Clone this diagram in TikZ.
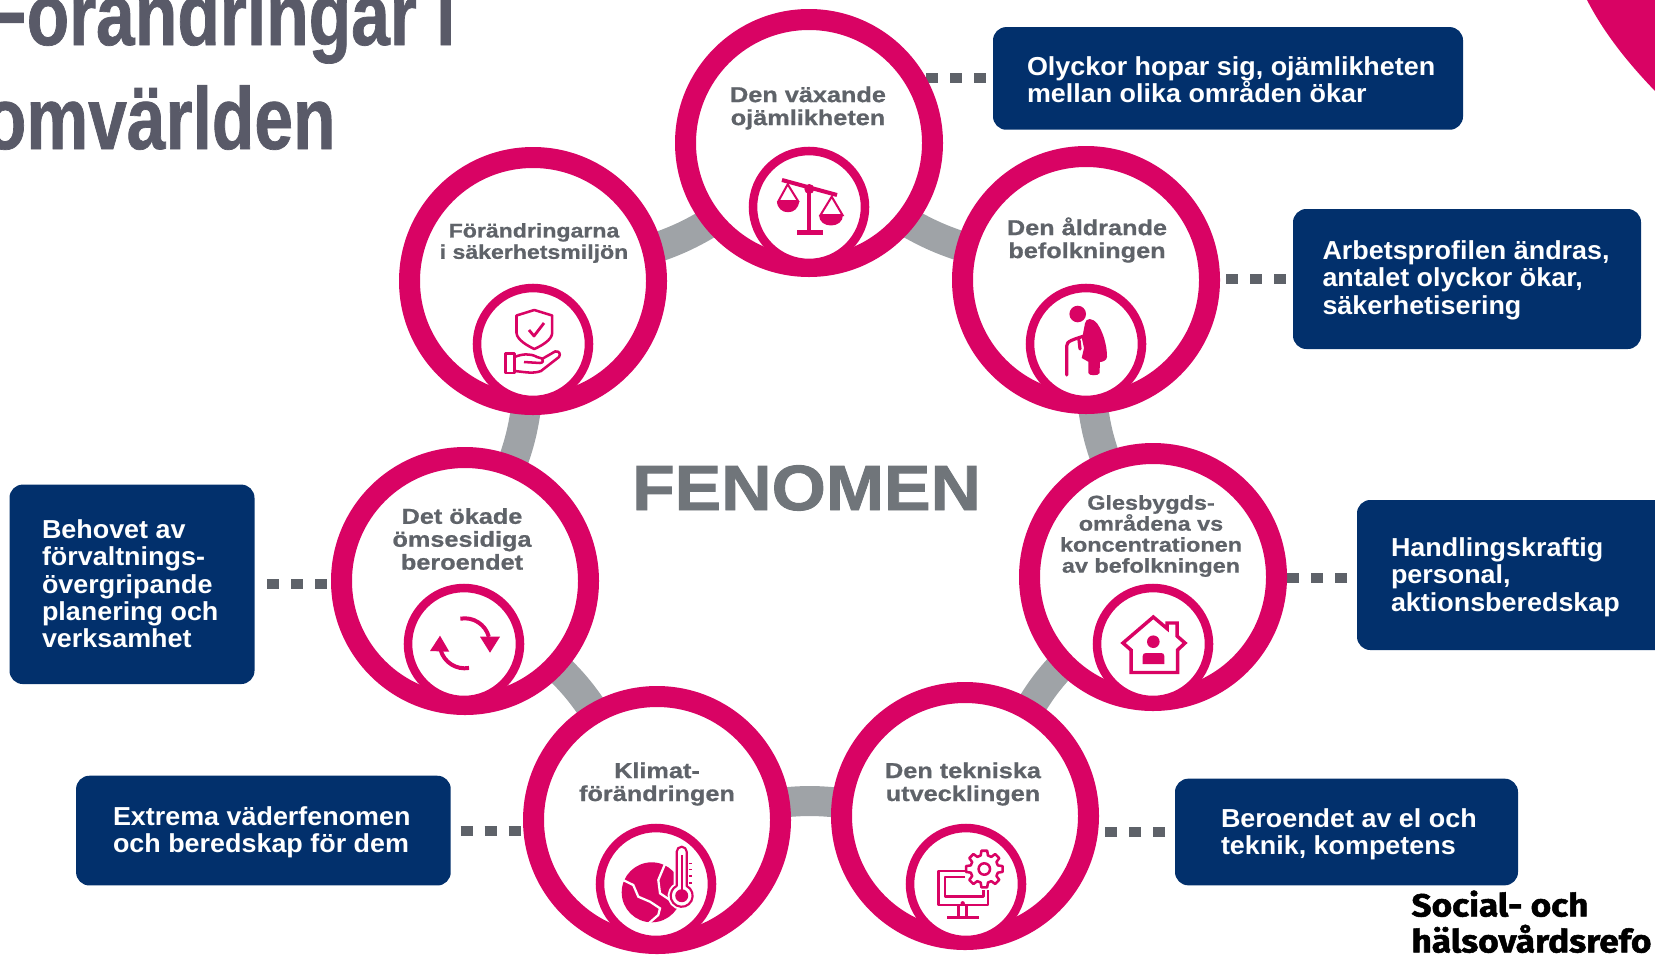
\documentclass[tikz,border=0pt]{standalone}
\usepackage{fontspec}
\usetikzlibrary{backgrounds}
\setmainfont{Liberation Sans}
\newfontfamily\boxfont[FakeStretch=1.035]{Liberation Sans}
\newfontfamily\ringfont[FakeStretch=1.17,FakeBold=0.8]{Liberation Sans}
\newfontfamily\bigfont[FakeStretch=1.09,FakeBold=1.4]{Liberation Sans}
\newfontfamily\titlefont[FakeStretch=0.79,FakeBold=0.8]{Liberation Sans}
\newfontfamily\footfont[FakeStretch=1.1,FakeBold=1.6]{Fira Sans}
\definecolor{ringpink}{HTML}{D90364}
\definecolor{boxblue}{HTML}{02306C}
\definecolor{bandgrey}{HTML}{9FA3A7}
\definecolor{dotgrey}{HTML}{5E6269}
\definecolor{labelgrey}{HTML}{5F6369}
\definecolor{bigrey}{HTML}{70757A}
\definecolor{titlegrey}{HTML}{595A68}

\tikzset{every picture/.style={line width=0.75pt}}
\tikzset{
  bigring/.style={circle,draw=ringpink,fill=white,line width=15.75pt,minimum size=185.25pt,inner sep=0pt,outer sep=0pt},
  smallring/.style={circle,draw=ringpink,fill=white,line width=6.4pt,minimum size=84pt,inner sep=0pt,outer sep=0pt},
  ringlabel/.style={text=labelgrey,align=center,inner sep=0.75pt,font=\ringfont\bfseries\fontsize{16.2}{17.2}\selectfont},
  infobox/.style={fill=boxblue,rounded corners=10pt,inner sep=0pt,outer sep=0pt},
  boxtext/.style={anchor=west,text=white,align=left,inner sep=0.75pt,font=\boxfont\bfseries\fontsize{19.5}{20.5}\selectfont},
  band/.style={draw=bandgrey,line width=22.5pt},
  dotline/.style={draw=dotgrey,line width=7.5pt,dash pattern=on 9pt off 9pt},
  iconline/.style={draw=ringpink,line width=1.9pt,line join=round}
}

\begin{document}
\begin{tikzpicture}[x=0.75pt,y=0.75pt,yscale=-1,xscale=1]
\useasboundingbox (0,0) rectangle (1655,954);
\clip (0,0) rectangle (1655,954);

%Corner
\fill[ringpink] (1587,0) .. controls (1605,35) and (1630,65) .. (1655,91) -- (1655,0) -- cycle ;

% Big Rings
\draw (809,143) node (ojamlik) [bigring] {};
\draw (1086,280) node (aldrande) [bigring] {};
\draw (1153,577) node (glesbygd) [bigring] {};
\draw (965,816) node (teknik) [bigring] {};
\draw (657,820) node (klimat) [bigring] {};
\draw (465,581) node (beroende) [bigring] {};
\draw (533,281) node (sakerhet) [bigring] {};

% Small Rings
\draw (809,207) node (iconojamlik) [smallring] {};
\draw (1086,344) node (iconaldrande) [smallring] {};
\draw (1153,644) node (iconglesbygd) [smallring] {};
\draw (966,884) node (iconteknik) [smallring] {};
\draw (656,884) node (iconklimat) [smallring] {};
\draw (464,644) node (iconberoende) [smallring] {};
\draw (533,344) node (iconsakerhet) [smallring] {};

% Info Boxes
\draw (1228,78.4) node (boxojamlik) [infobox,minimum width=352.5pt,minimum height=77pt] {};
\draw (1467,279) node (boxaldrande) [infobox,minimum width=261pt,minimum height=105pt] {};
\draw (1528.5,575) node (boxglesbygd) [infobox,minimum width=257.25pt,minimum height=112.5pt] {};
\draw (1346.5,832) node (boxteknik) [infobox,minimum width=257.25pt,minimum height=80pt] {};
\draw (263.4,830.6) node (boxklimat) [infobox,minimum width=281pt,minimum height=82.3pt] {};
\draw (132,584.3) node (boxberoende) [infobox,minimum width=183.75pt,minimum height=149.6pt] {};

% Connectors
\begin{scope}[on background layer]
\draw[band] (ojamlik.-39) to[bend left=6] (aldrande.165);
\draw[band] (aldrande.-87) to[bend left=6] (glesbygd.112);
\draw[band] (glesbygd.224) to[bend left=6] (teknik.59);
\draw[band] (teknik.174) to[bend left=6] (klimat.8);
\draw[band] (klimat.120) to[bend left=6] (beroende.-43);
\draw[band] (beroende.68) to[bend left=6] (sakerhet.-93);
\draw[band] (sakerhet.15) to[bend left=6] (ojamlik.-141);
\draw[dotline] ([xshift=-5.6]boxojamlik.180.3) -- (boxojamlik.180.3 -| ojamlik.center);
\draw[dotline] ([xshift=-5.6]boxaldrande.west) -- (boxaldrande.west -| aldrande.center);
\draw[dotline] ([xshift=-7.5]boxglesbygd.181) -- (boxglesbygd.181 -| glesbygd.center);
\draw[dotline] ([xshift=-7.5]boxteknik.180.7) -- (boxteknik.180.7 -| teknik.center);
\draw[dotline] ([xshift=7.5]boxklimat.east) -- (boxklimat.east -| klimat.center);
\draw[dotline] ([xshift=9.5]boxberoende.east) -- (boxberoende.east -| beroende.center);
\end{scope}

% Text Node
\draw (1025.5,80) node (textojamlik) [boxtext] {Olyckor hopar sig, ojämlikheten\\mellan olika områden ökar};
\draw (1321,280) node (textaldrande) [boxtext] {Arbetsprofilen ändras,\\antalet olyckor ökar,\\säkerhetisering};
\draw (1389.5,577) node (textglesbygd) [boxtext] {Handlingskraftig\\personal,\\aktionsberedskap};
\draw (1219.5,834) node (textteknik) [boxtext] {Beroendet av el och\\teknik, kompetens};
\draw (111.5,832) node (textklimat) [boxtext] {Extrema väderfenomen\\och beredskap för dem};
\draw (40.5,584) node (textberoende) [boxtext] {Behovet av\\förvaltnings-\\övergripande\\planering och\\verksamhet};
% Text Node
\draw (808,108) node (labelojamlik) [ringlabel] {Den växande\\ojämlikheten};
\draw (1087,240) node (labelaldrande) [ringlabel] {Den åldrande\\befolkningen};
\draw (1151,536) node (labelglesbygd) [ringlabel,font=\ringfont\bfseries\fontsize{15}{15.75}\selectfont] {Glesbygds-\\områdena vs\\koncentrationen\\av befolkningen};
\draw (963,784) node (labelteknik) [ringlabel] {Den tekniska\\utvecklingen};
\draw (657,784) node (labelklimat) [ringlabel] {Klimat-\\förändringen};
\draw (462,539) node (labelberoende) [ringlabel] {Det ökade\\ömsesidiga\\beroendet};
\draw (534,243) node (labelsakerhet) [ringlabel,font=\ringfont\bfseries\fontsize{14.8}{16}\selectfont] {Förändringarna\\i säkerhetsmiljön};
\draw (806.5,488) node (fenomen) [text=bigrey,inner sep=0.75pt,font=\bigfont\bfseries\fontsize{48}{48}\selectfont] {FENOMEN};
\draw (456,45) node (titleone) [anchor=base east,inner sep=0pt,text=titlegrey,font=\titlefont\bfseries\fontsize{66}{66}\selectfont] {Förändringar i};
\draw (336,149) node (titletwo) [anchor=base east,inner sep=0pt,text=titlegrey,font=\titlefont\bfseries\fontsize{66}{66}\selectfont] {omvärlden};
\draw (1411,890) node (reform) [anchor=north west,inner sep=0pt,align=left,font=\footfont\bfseries\fontsize{24}{27}\selectfont] {Social- och\\hälsovårdsrefo};

%Scales
\draw[ringpink,line width=3pt] (782,180) -- (837,195) ;
\draw[ringpink,line width=3pt] (809.3,189) -- (809.3,232) ;
\fill[ringpink] (797.3,230) rectangle (823.3,235) ;
\fill[ringpink] (809.3,189) circle (5) ;
\draw[ringpink,line width=1.5pt] (787.7,184.3) -- (778.5,201) -- (798,201) -- cycle ;
\fill[ringpink] (777.3,200.7) .. controls (777.3,216) and (799.3,216) .. (799.3,200.7) -- cycle ;
\draw[ringpink,line width=1.5pt] (831.7,196.7) -- (820.5,215) -- (842.5,215) -- cycle ;
\fill[ringpink] (819.3,214.5) .. controls (819.3,229) and (843.3,229) .. (843.3,214.5) -- cycle ;

%Old Person
\fill[ringpink] (1077.7,314) circle (8.3) ;
\fill[ringpink] (1085,323.3) .. controls (1086,318) and (1092,317) .. (1097.5,324) .. controls (1103,332) and (1107,345) .. (1107,356.7) .. controls (1107,360) and (1103,362) .. (1100,362) -- (1099.5,373) .. controls (1099.5,376) and (1088.3,376) .. (1088.3,373) -- (1088.3,361.7) -- (1081.7,358) -- (1084,348) -- (1082,339) -- cycle ;
\draw[ringpink,line width=2.4pt,line cap=round] (1066.7,375) -- (1066.7,346) .. controls (1066.7,341) and (1072,340) .. (1087,335) ;
\draw[ringpink,line width=2.4pt,line cap=round] (1079,340) -- (1080,349) ;

%Shield And Hand
\draw[iconline] (534.3,310) -- (516.5,315.5) -- (516.5,333) .. controls (517,340) and (528,346) .. (534.3,349) .. controls (541,346) and (552,340) .. (552.2,333) -- (552.2,315.5) -- cycle ;
\draw[iconline,line width=2.1pt] (529,330) -- (534,336) -- (544,323) ;
\draw[iconline] (505.5,353.5) rectangle (514.5,373) ;
\draw[iconline] (514.5,357) .. controls (522,354) and (530,353) .. (537,357) -- (542,358.5) .. controls (544,360) and (543,363) .. (540,363) -- (524,362) ;
\draw[iconline] (542,359) -- (555,351.5) .. controls (559,350.5) and (561,354) .. (559,357) -- (541,371) .. controls (533,374) and (525,372) .. (514.5,371) ;

%House
\draw[iconline,line width=2.6pt,line join=miter] (1153.3,617) -- (1123,643) -- (1131,650) -- (1131,672.5) -- (1177.5,672.5) -- (1177.5,650) -- (1185,643) -- (1177,636) -- (1177,623) -- (1167,623) -- (1167,628.5) -- cycle ;
\fill[ringpink] (1153.3,641.7) circle (6.3) ;
\fill[ringpink] (1142.7,664) -- (1142.7,656) .. controls (1142.7,654) and (1144,653) .. (1146,653) -- (1161,653) .. controls (1163,653) and (1164.3,654) .. (1164.3,656) -- (1164.3,664) -- cycle ;

%Refresh Arrows
\draw[ringpink,line width=3pt] (464.7,643.3) ++(-100:25) arc[start angle=-100,end angle=-15,radius=25] ;
\fill[ringpink] (480,636.7) -- (500,636.7) -- (490,652.7) -- cycle ;
\draw[ringpink,line width=3pt] (464.7,643.3) ++(80:25) arc[start angle=80,end angle=165,radius=25] ;
\fill[ringpink] (430,651) -- (449.3,651.7) -- (440,635.7) -- cycle ;

%Globe And Thermometer
\fill[ringpink] (651.7,892.3) circle (30) ;
\draw[white,line width=1.7pt] (623,880) -- (633.3,885) -- (638.3,896.7) -- (650,901.7) -- (660,908.3) -- (658.3,915) -- (648,924) ;
\draw[white,line width=1.7pt] (665,864) -- (658.3,880) -- (660,893.3) -- (670,900) ;
\draw[white,fill=white,line width=4.5pt] (676.7,886) -- (676.7,851.7) arc[start angle=180,end angle=360,radius=5] -- (686.7,886) arc[start angle=-62.7,end angle=242.7,radius=11] -- cycle ;
\draw[iconline,fill=white,line width=1.6pt] (676.7,886) -- (676.7,851.7) arc[start angle=180,end angle=360,radius=5] -- (686.7,886) arc[start angle=-62.7,end angle=242.7,radius=11] -- cycle ;
\fill[ringpink] (681.7,895.7) circle (6.5) ;
\draw[ringpink,line width=1.5pt] (681.7,855) -- (681.7,893) ;
\draw[ringpink,line width=1.2pt] (688.5,863.3) -- (692,863.3) (688.5,869.5) -- (692,869.5) (688.5,876) -- (692,876) (688.5,882.7) -- (692,882.7) ;

%Computer And Gear
\draw[iconline] (965,871) -- (938.5,871) -- (938.5,905) -- (988,905) -- (988,889.5) ;
\draw[iconline] (965,877) -- (945,877) -- (945,896.7) -- (983.3,896.7) -- (983.3,889.5) ;
\draw[iconline] (958.3,905) -- (958.3,917) (966.7,905) -- (966.7,917) (947.3,917.3) -- (979.3,917.3) ;
\fill[ringpink] (962.7,903.3) circle (2.2) ;
\draw[iconline,fill=white,shift={(984.3,869)}] (-9:18.5) -- (9:18.5) -- (15:14) -- (30:14) -- (36:18.5) -- (54:18.5) -- (60:14) -- (75:14) -- (81:18.5) -- (99:18.5) -- (105:14) -- (120:14) -- (126:18.5) -- (144:18.5) -- (150:14) -- (165:14) -- (171:18.5) -- (189:18.5) -- (195:14) -- (210:14) -- (216:18.5) -- (234:18.5) -- (240:14) -- (255:14) -- (261:18.5) -- (279:18.5) -- (285:14) -- (300:14) -- (306:18.5) -- (324:18.5) -- (330:14) -- (345:14) -- cycle ;
\draw[iconline] (984.3,869) circle (5.7) ;

\end{tikzpicture}
\end{document}
